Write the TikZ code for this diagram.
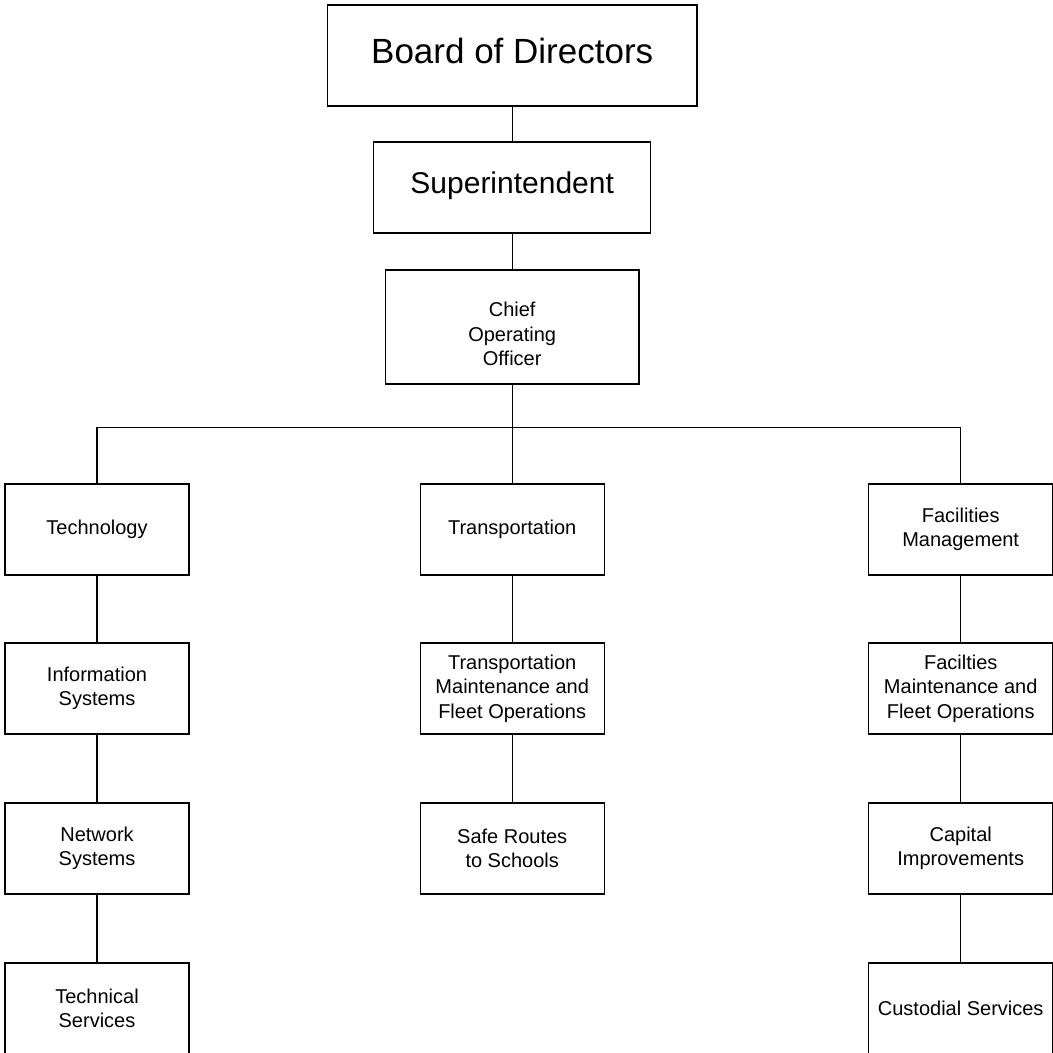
\documentclass[tikz,border=0pt]{standalone}
\usepackage{fontspec}
\setmainfont{Liberation Sans}
\newcommand{\w}{184pt}

\begin{document}
\begin{tikzpicture}[x=1pt, y=-1pt,
    box/.style={draw, rectangle, line width=1.3pt, minimum width=\w, minimum height=91pt, inner sep=0pt, align=center, font=\fontsize{20}{24.5}\selectfont},
    link/.style={line width=1.3pt}]
    \useasboundingbox (0,0) rectangle (1053,1053);

    % Top of the chart
    \node[box, minimum width=369.7pt, minimum height=101pt, font=\fontsize{35}{40}\selectfont, text height=25pt, text depth=10pt] (board) at (512.2,55.5) {Board of Directors};
    \node[box, minimum width=277pt, font=\fontsize{30}{35}\selectfont, text height=21.5pt, text depth=10.5pt] (super) at (512.2,187.5) {Superintendent};
    \node[box, minimum width=253.7pt, minimum height=114pt] (coo) at (512.2,327) {\rule{0pt}{28.6pt}Chief\\Operating\\Officer};
    \coordinate (bar) at (512.2,427.3);

    % First row
    \node[box] (tech) at (97,529.5) {Technology};
    \node[box] (trans) at (512.2,529.5) {Transportation};
    \node[box] (fac) at (960.7,529.5) {Facilities\\Management};

    % Second row
    \node[box] (info) at (97,688.5) {Information\\Systems};
    \node[box] (transmaint) at (512.2,688.5) {Transportation\\Maintenance and\\Fleet Operations};
    \node[box] (facmaint) at (960.7,688.5) {Facilties\\Maintenance and\\Fleet Operations};

    % Third row
    \node[box] (network) at (97,848.5) {Network\\Systems};
    \node[box] (routes) at (512.2,848.5) {Safe Routes\\to Schools};
    \node[box] (capital) at (960.7,848.5) {Capital\\Improvements};

    % Fourth row
    \node[box] (techserv) at (97,1008.5) {Technical\\Services};
    \node[box] (custodial) at (960.7,1008.5) {Custodial Services};

    % Lines
    \draw[link] (board) -- (super);
    \draw[link] (super) -- (coo);
    \draw[link] (coo) -- (bar);
    \draw[link] (tech) |- (bar) -| (fac);
    \draw[link] (bar) -- (trans);
    \draw[link] (tech) -- (info);
    \draw[link] (info) -- (network);
    \draw[link] (network) -- (techserv);
    \draw[link] (trans) -- (transmaint);
    \draw[link] (transmaint) -- (routes);
    \draw[link] (fac) -- (facmaint);
    \draw[link] (facmaint) -- (capital);
    \draw[link] (capital) -- (custodial);
\end{tikzpicture}
\end{document}
